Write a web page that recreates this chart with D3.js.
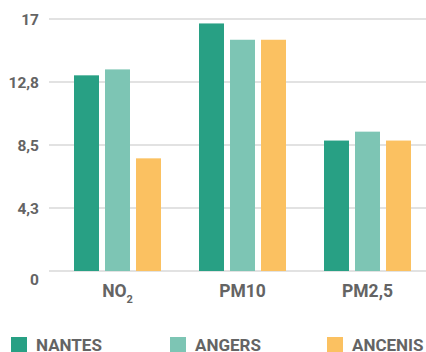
<!DOCTYPE html>
<html>
<head>
<meta charset="utf-8">
<script src="https://cdn.jsdelivr.net/npm/d3@7"></script>
<style>
  html, body { margin: 0; padding: 0; background: #fff; }
  svg { display: block; }
  text { font-family: Roboto, "DejaVu Sans", sans-serif; font-weight: 700; fill: #646464; }
</style>
</head>
<body>
<div id="chart"></div>
<script>
// Pollutants on the x axis
const categories = ["NO2", "PM10", "PM2,5"];
// Cities (series)
const series = ["NANTES", "ANGERS", "ANCENIS"];
const colors = ["#28a084", "#7dc5b4", "#fbc161"];
// Annual mean concentrations per city, one value per pollutant
const nantes  = [13.2, 16.7, 8.8];
const angers  = [13.6, 15.6, 9.4];
const ancenis = [7.6, 15.6, 8.8];
// Y axis ticks and their printed labels
const tickValues = [0, 4.25, 8.5, 12.75, 17];
const tickLabels = ["0", "4,3", "8,5", "12,8", "17"];

const values = [nantes, angers, ancenis];
const width = 426, height = 352;

const svg = d3.select("#chart").append("svg")
  .attr("width", width).attr("height", height);

const x = d3.scaleBand().domain(categories).range([55, 430]);
const xs = d3.scaleBand().domain(series).range([0, x.bandwidth()])
  .paddingInner(0.194).paddingOuter(0.613);
const y = d3.scaleLinear().domain([0, 17]).range([271, 19]);

// Grid lines
svg.append("g").selectAll("line").data(tickValues).join("line")
  .attr("x1", 49).attr("x2", width)
  .attr("y1", d => y(d)).attr("y2", d => y(d))
  .attr("stroke", "#e2e2e2").attr("stroke-width", 2);

// Y tick labels
svg.append("g").selectAll("text").data(tickValues).join("text")
  .attr("x", 39)
  .attr("y", d => y(d) + (d === 0 ? 8 : 0))
  .attr("dy", "0.36em")
  .attr("text-anchor", "end")
  .attr("font-size", 15.5)
  .text((d, i) => tickLabels[i]);

// Bars
const rows = [];
categories.forEach((c, ci) => series.forEach((s, si) =>
  rows.push({ c, s, si, v: values[si][ci] })));

svg.append("g").selectAll("rect").data(rows).join("rect")
  .attr("x", d => x(d.c) + xs(d.s))
  .attr("width", xs.bandwidth())
  .attr("y", d => y(d.v))
  .attr("height", d => y(0) - y(d.v))
  .attr("fill", d => colors[d.si]);

// Category labels (NO2 gets a subscript)
const cat = svg.append("g").selectAll("text").data(categories).join("text")
  .attr("x", d => x(d) + x.bandwidth() / 2)
  .attr("y", 296.5)
  .attr("text-anchor", "middle")
  .attr("font-size", 17.5);
cat.each(function (d) {
  const t = d3.select(this);
  if (d === "NO2") {
    t.append("tspan").text("NO");
    t.append("tspan").attr("font-size", 11).attr("dy", 6).text("2");
  } else {
    t.text(d);
  }
});

// Legend
const legendX = [11, 170, 327];
const lg = svg.append("g").selectAll("g").data(series).join("g")
  .attr("transform", (d, i) => `translate(${legendX[i]},337)`);
lg.append("rect").attr("width", 16).attr("height", 16)
  .attr("fill", (d, i) => colors[i]);
lg.append("text").attr("x", 25).attr("y", 13.5)
  .attr("font-size", 17).text(d => d);
</script>
</body>
</html>
